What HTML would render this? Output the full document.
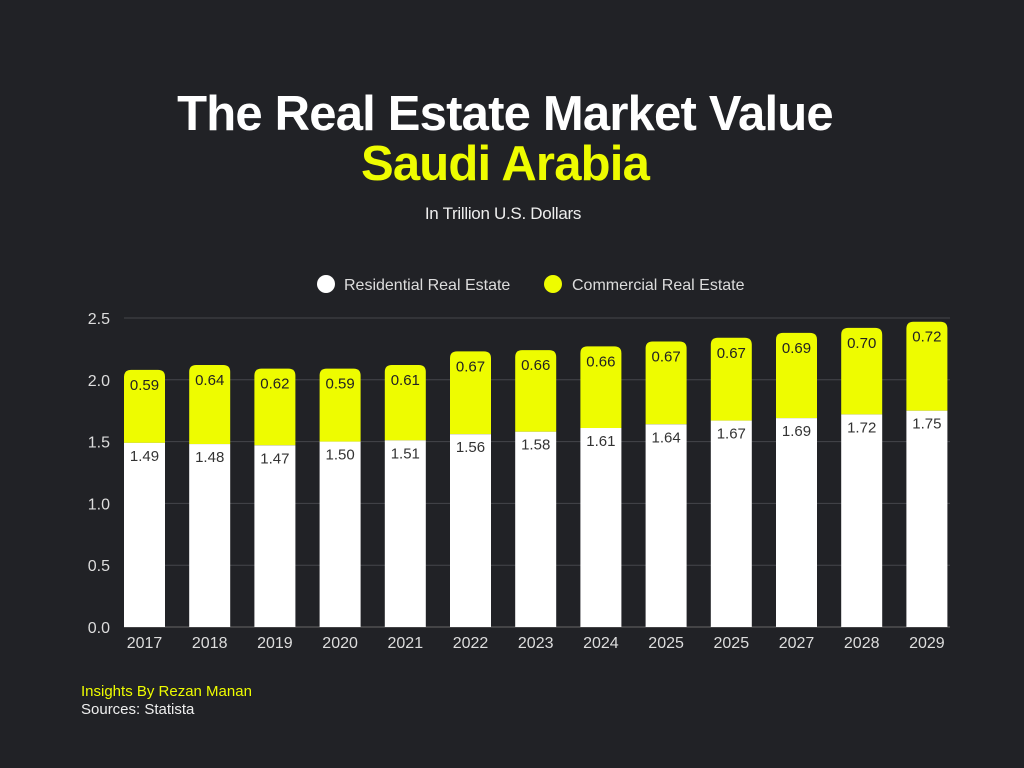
<!DOCTYPE html>
<html><head><meta charset="utf-8"><style>
body{margin:0;background:#212226;}
#w{position:relative;width:1024px;height:768px;background:#212226;font-family:"Liberation Sans",sans-serif;overflow:hidden}
.t{position:absolute;left:0;width:1010px;text-align:center;font-weight:bold;letter-spacing:-0.8px}
</style></head><body>
<div id="w">
<div class="t" style="top:86px;font-size:49px;color:#fff">The Real Estate Market Value</div>
<div class="t" style="top:136px;font-size:49px;color:#eefc00">Saudi Arabia</div>
<div style="position:absolute;top:204px;left:0;width:1006px;text-align:center;color:#eee;font-size:17px;letter-spacing:-0.3px">In Trillion U.S. Dollars</div>
<svg id="c" width="1024" height="768" style="position:absolute;left:0;top:0">
<g>
<circle cx="326" cy="284" r="9" fill="#fff"/>
<text x="344" y="290" fill="#ddd" font-size="16" font-family="Liberation Sans">Residential Real Estate</text>
<circle cx="553" cy="284" r="9" fill="#eefc00"/>
<text x="572" y="290" fill="#ddd" font-size="16" font-family="Liberation Sans">Commercial Real Estate</text>
</g>
</svg>
<div style="position:absolute;left:81px;top:683px;font-size:15px;color:#eefc00">Insights By Rezan Manan</div>
<div style="position:absolute;left:81px;top:701px;font-size:15px;color:#eee">Sources: Statista</div>
</div>
<script>
const years=["2017","2018","2019","2020","2021","2022","2023","2024","2025","2025","2027","2028","2029"];
const residential=[1.49,1.48,1.47,1.50,1.51,1.56,1.58,1.61,1.64,1.67,1.69,1.72,1.75];
const commercial=[0.59,0.64,0.62,0.59,0.61,0.67,0.66,0.66,0.67,0.67,0.69,0.70,0.72];
const yTicks=[0,0.5,1.0,1.5,2.0,2.5];
const NS="http://www.w3.org/2000/svg",svg=document.getElementById('c');
const y0=627,k=123.6,x0=124,step=65.2,bw=41,xr=950;
const Y=v=>y0-v*k, X=i=>x0+i*step;
function mk(t,a,p){const e=document.createElementNS(NS,t);for(const n in a)e.setAttribute(n,a[n]);(p||svg).appendChild(e);return e;}
yTicks.forEach(v=>{
 const l=mk('line',{x1:x0,x2:xr,y1:Y(v),y2:Y(v),stroke:v===0?'#666':'#45464b','stroke-width':1});
 
 
 const t=mk('text',{x:110,y:Y(v)+6,fill:'#ddd','font-size':16,'text-anchor':'end','font-family':'Liberation Sans'});
 t.textContent=v.toFixed(1);
 
 
});
years.forEach((yr,i)=>{
 const x=X(i),r=residential[i],c=commercial[i],tot=r+c;
 const top=Y(tot),mid=Y(r),rr=7;
 const p=mk('path',{d:`M${x},${mid}V${top+rr}Q${x},${top} ${x+rr},${top}H${x+bw-rr}Q${x+bw},${top} ${x+bw},${top+rr}V${mid}Z`,fill:'#eefc00'});
 
 
 const b=mk('rect',{x:x,y:mid,width:bw,height:y0-mid,fill:'#fff'});
 
 
 const t1=mk('text',{x:x+bw/2,y:top+20,fill:'#222','font-size':15,'text-anchor':'middle','font-family':'Liberation Sans'});
 t1.textContent=c.toFixed(2);
 
 
 const t2=mk('text',{x:x+bw/2,y:mid+18,fill:'#333','font-size':15,'text-anchor':'middle','font-family':'Liberation Sans'});
 t2.textContent=r.toFixed(2);
 
 
 const t3=mk('text',{x:x+bw/2,y:648,fill:'#ddd','font-size':16,'text-anchor':'middle','font-family':'Liberation Sans'});
 t3.textContent=yr;
 
 
});
</script>
</body></html>
